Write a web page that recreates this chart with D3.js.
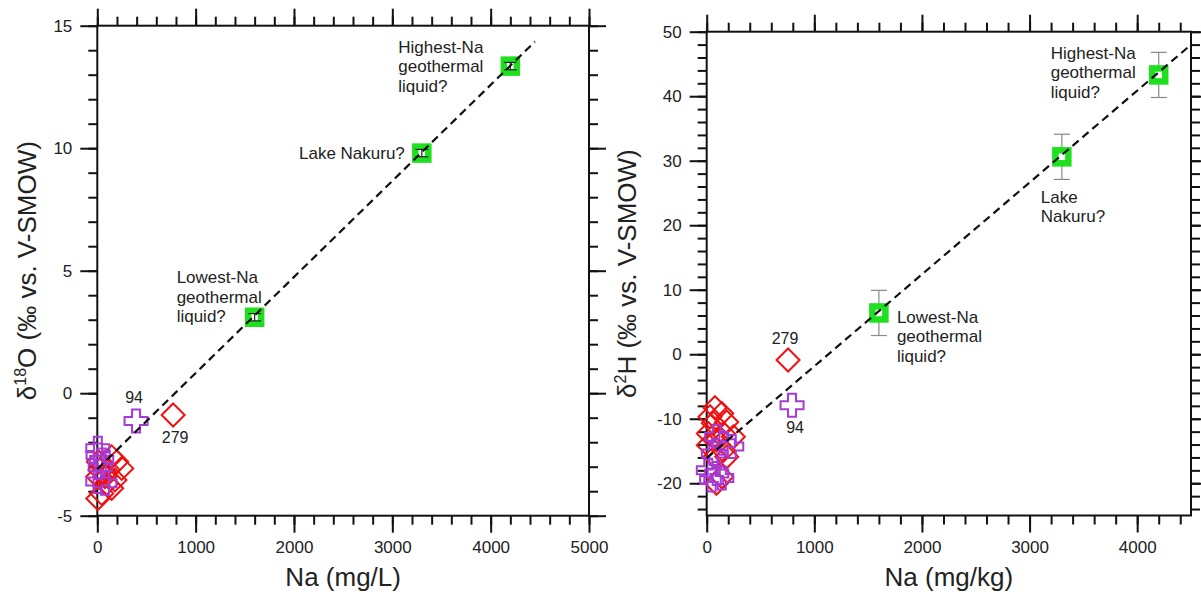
<!DOCTYPE html>
<html>
<head>
<meta charset="utf-8">
<script src="https://cdn.jsdelivr.net/npm/d3@7"></script>
<style>
  html, body { margin: 0; padding: 0; background: #fff; }
  svg { display: block; font-family: "Liberation Sans", Arial, sans-serif; }
</style>
</head>
<body>
<svg id="chart" width="1201" height="592"></svg>
<script>
// ---- Left panel: δ18O vs Na (mg/L) ----
const naO_diamond   = [146, 197, 248, 112, 27, 78, 180, 146, 5, 45, 95, 10, 5, 771];
const d18O_diamond  = [-2.6, -2.8, -3.07, -3.13, -3.13, -3.4, -3.54, -3.88, -4.3, -4.09, -3.68, -2.8, -3.4, -0.89];
const naO_plus      = [5, 8, 45, 5, 78, 30, 394];
const d18O_plus     = [-2.25, -2.52, -2.73, -3.6, -3.68, -3.0, -1.13];
const naO_end       = [1600, 3300, 4200];
const d18O_end      = [3.1, 9.8, 13.35];
const d18O_err      = [0.15, 0.15, 0.15];
const naO_line      = [0, 4450];
const d18O_line     = [-3.1, 14.35];

// ---- Right panel: δ2H vs Na (mg/kg) ----
const naH_diamond   = [77, 31, 140, 186, 62, 15, 155, 248, 93, 15, 155, 77, 186, 90, 140, 756];
const d2H_diamond   = [-8.3, -9.7, -9.2, -10.5, -10.7, -12.3, -12.3, -12.8, -13.3, -14.1, -14.9, -15.9, -15.9, -20.0, -19.0, -0.9];
const naH_plus      = [93, 155, 233, 62, 15, 93, 140, 46, 793];
const d2H_plus      = [-12.8, -13.8, -14.3, -15.4, -18.0, -18.5, -19.2, -19.5, -7.9];
const naH_end       = [1600, 3300, 4200];
const d2H_end       = [6.4, 30.6, 43.3];
const d2H_err       = [3.5, 3.5, 3.5];
const naH_line      = [0, 4480];
const d2H_line      = [-16.1, 47.7];

// Tick labels
const xTicksO = [0, 1000, 2000, 3000, 4000, 5000];
const yTicksO = [-5, 0, 5, 10, 15];
const xTicksH = [0, 1000, 2000, 3000, 4000];
const yTicksH = [-20, -10, 0, 10, 20, 30, 40, 50];

// Annotation text
const endLabels = [
  ["Lowest-Na", "geothermal", "liquid?"],
  ["Lake Nakuru?"],
  ["Highest-Na", "geothermal", "liquid?"]
];
const endLabelsH = [
  ["Lowest-Na", "geothermal", "liquid?"],
  ["Lake", "Nakuru?"],
  ["Highest-Na", "geothermal", "liquid?"]
];
const sampleLabels = ["94", "279"];

const svg = d3.select("#chart");
const RED = "#f01010", PURPLE = "#a63ad6", GREEN = "#1ee01e";
const TXT = "#222";

const diamondPath = "M0,-11.5L11.5,0L0,11.5L-11.5,0Z";
const plusPath = "M-4,-11.5H4V-4H11.5V4H4V11.5H-4V4H-11.5V-4H-4Z";

function range(a, b, step) { const r = []; for (let v = a; v <= b + 1e-9; v += step) r.push(+v.toFixed(6)); return r; }

function drawPanel(p) {
  const x = d3.scaleLinear().domain(p.xDomain).range([p.left, p.right]);
  const y = d3.scaleLinear().domain(p.yDomain).range([p.bottom, p.top]);
  const g = svg.append("g");

  const major = 17, minor = 9;
  const fmt = d => String(d);

  function axisPair(axisFn, scale, majors, minors, pos, labels) {
    const gMin = g.append("g").attr("transform", pos)
      .call(axisFn(scale).tickValues(minors).tickSize(minor).tickSizeOuter(0).tickFormat(""));
    const gMaj = g.append("g").attr("transform", pos)
      .call(axisFn(scale).tickValues(majors).tickSize(major).tickSizeOuter(0).tickPadding(8)
        .tickFormat(labels ? fmt : ""));
    [gMin, gMaj].forEach(a => {
      a.select(".domain").remove();
      a.selectAll("line").attr("stroke", "#111").attr("stroke-width", 2);
      a.selectAll("text").attr("fill", TXT).style("font-size", "17px")
        .style("font-family", "'Liberation Sans', Arial, sans-serif");
    });
  }
  axisPair(d3.axisBottom, x, p.xMajor, p.xMinor, `translate(0,${p.bottom})`, true);
  axisPair(d3.axisTop, x, p.xMajor, p.xMinor, `translate(0,${p.top})`, false);
  axisPair(d3.axisLeft, y, p.yMajor, p.yMinor, `translate(${p.left},0)`, true);
  axisPair(d3.axisRight, y, p.yMajor, p.yMinor, `translate(${p.right},0)`, false);

  g.append("rect")
    .attr("x", p.left).attr("y", p.top)
    .attr("width", p.right - p.left).attr("height", p.bottom - p.top)
    .attr("fill", "none").attr("stroke", "#111").attr("stroke-width", 2);

  // sample markers
  g.append("g").selectAll("path").data(d3.zip(p.dX, p.dY)).join("path")
    .attr("d", diamondPath)
    .attr("transform", d => `translate(${x(d[0])},${y(d[1])})`)
    .attr("fill", "none").attr("stroke", RED).attr("stroke-width", 2);
  g.append("g").selectAll("path").data(d3.zip(p.pX, p.pY)).join("path")
    .attr("d", plusPath)
    .attr("transform", d => `translate(${x(d[0])},${y(d[1])})`)
    .attr("fill", "none").attr("stroke", PURPLE).attr("stroke-width", 2);

  const ends = d3.zip(p.eX, p.eY, p.eErr);
  function errorBars() {
    const eb = g.append("g").attr("stroke", p.errColor).attr("stroke-width", p.errWidth);
    ends.forEach(([vx, vy, e]) => {
      const cx = x(vx), hw = p.capHalf;
      eb.append("line").attr("x1", cx).attr("x2", cx).attr("y1", y(vy - e)).attr("y2", y(vy + e));
      eb.append("line").attr("x1", cx - hw).attr("x2", cx + hw).attr("y1", y(vy + e)).attr("y2", y(vy + e));
      eb.append("line").attr("x1", cx - hw).attr("x2", cx + hw).attr("y1", y(vy - e)).attr("y2", y(vy - e));
    });
  }
  if (!p.barsOnTop) errorBars();
  g.append("g").selectAll("rect").data(ends).join("rect")
    .attr("x", d => x(d[0]) - 6.5).attr("y", d => y(d[1]) - 6.5)
    .attr("width", 13).attr("height", 13)
    .attr("fill", "#fff").attr("stroke", GREEN).attr("stroke-width", 6.5);
  if (p.barsOnTop) errorBars();

  // mixing line
  g.append("line")
    .attr("x1", x(p.lX[0])).attr("y1", y(p.lY[0]))
    .attr("x2", x(p.lX[1])).attr("y2", y(p.lY[1]))
    .attr("stroke", "#111").attr("stroke-width", 2.2).attr("stroke-dasharray", "8,5");

  // end-member annotations
  p.endLabels.forEach((lines, i) => {
    const o = p.endOffsets[i];
    const t = g.append("text")
      .attr("x", x(p.eX[i]) + o[0]).attr("y", y(p.eY[i]) + o[1])
      .attr("text-anchor", o[2]).attr("fill", TXT).style("font-size", "17px");
    lines.forEach((s, k) => t.append("tspan")
      .attr("x", x(p.eX[i]) + o[0]).attr("dy", k === 0 ? 0 : 19.3).text(s));
  });

  // sample number labels
  p.sampleRefs.forEach((ref, i) => {
    const [vx, vy] = ref, o = p.sampleOffsets[i];
    g.append("text").attr("x", x(vx) + o[0]).attr("y", y(vy) + o[1])
      .attr("text-anchor", "middle").attr("fill", TXT).style("font-size", "16px")
      .text(sampleLabels[i]);
  });

  // axis titles
  g.append("text").attr("x", (p.left + p.right) / 2).attr("y", 586)
    .attr("text-anchor", "middle").attr("fill", TXT).style("font-size", "26px")
    .text(p.xTitle);
  const yt = g.append("text")
    .attr("transform", `translate(${p.yTitleX},${(p.top + p.bottom) / 2}) rotate(-90)`)
    .attr("text-anchor", "middle").attr("fill", TXT).style("font-size", "26px");
  yt.append("tspan").text("δ");
  yt.append("tspan").attr("dy", -10).style("font-size", "16px").text(p.yIso[0]);
  yt.append("tspan").attr("dy", 10).text(p.yIso[1] + " (‰ vs. V-SMOW)");
}

drawPanel({
  left: 97.3, right: 589, top: 25.7, bottom: 515.7,
  xDomain: [0, 5000], yDomain: [-5, 15],
  xMajor: xTicksO, xMinor: range(0, 5000, 200),
  yMajor: yTicksO, yMinor: range(-5, 15, 1),
  dX: naO_diamond, dY: d18O_diamond, pX: naO_plus, pY: d18O_plus,
  eX: naO_end, eY: d18O_end, eErr: d18O_err,
  errColor: "#222", errWidth: 1.2, capHalf: 6.5, barsOnTop: true,
  lX: naO_line, lY: d18O_line,
  endLabels: endLabels,
  endOffsets: [[-78, -34, "start"], [-17, 6, "end"], [-112, -13, "start"]],
  sampleRefs: [[naO_plus[6], d18O_plus[6]], [naO_diamond[13], d18O_diamond[13]]],
  sampleOffsets: [[-2, -18], [2, 28]],
  xTitle: "Na (mg/L)", yTitleX: 36, yIso: ["18", "O"]
});

drawPanel({
  left: 706.7, right: 1191, top: 31.7, bottom: 515.5,
  xDomain: [0, 4500], yDomain: [-25, 50],
  xMajor: xTicksH, xMinor: range(0, 4400, 200),
  yMajor: yTicksH, yMinor: range(-24, 50, 2),
  dX: naH_diamond, dY: d2H_diamond, pX: naH_plus, pY: d2H_plus,
  eX: naH_end, eY: d2H_end, eErr: d2H_err,
  errColor: "#888", errWidth: 1.2, capHalf: 8, barsOnTop: false,
  lX: naH_line, lY: d2H_line,
  endLabels: endLabelsH,
  endOffsets: [[18, 10, "start"], [-21, 46, "start"], [-108, -16, "start"]],
  sampleRefs: [[naH_plus[8], d2H_plus[8]], [naH_diamond[15], d2H_diamond[15]]],
  sampleOffsets: [[3, 28], [-3, -16]],
  xTitle: "Na (mg/kg)", yTitleX: 636, yIso: ["2", "H"]
});
</script>
</body>
</html>
